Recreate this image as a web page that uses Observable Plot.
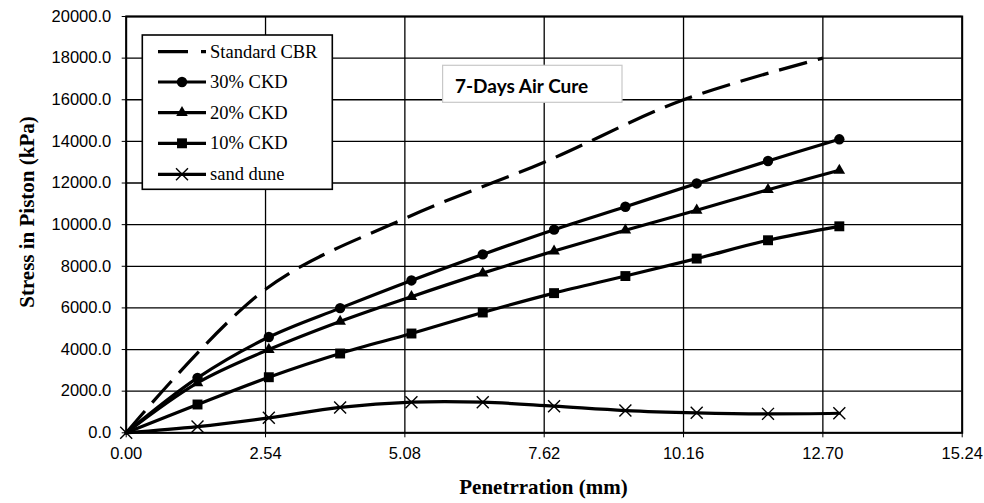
<!DOCTYPE html>
<html><head><meta charset="utf-8">
<script src="https://cdn.jsdelivr.net/npm/d3@7"></script>
<script src="https://cdn.jsdelivr.net/npm/@observablehq/plot@0.6"></script>
<style>
html,body{margin:0;padding:0;background:#fff;}
#chart svg{display:block;}
</style></head><body><div id="chart"></div>
<script>
// ---- data ----
const penetration = [0, 1.3, 2.6, 3.9, 5.2, 6.5, 7.8, 9.1, 10.4, 11.7, 13.0];
const ckd30 = [0, 2640, 4600, 5990, 7320, 8570, 9760, 10860, 11980, 13060, 14100];
const ckd20 = [0, 2400, 4000, 5350, 6540, 7670, 8730, 9730, 10690, 11680, 12610];
const ckd10 = [0, 1360, 2670, 3810, 4770, 5780, 6710, 7530, 8370, 9250, 9920];
const sandDune = [0, 300, 720, 1220, 1470, 1470, 1280, 1070, 960, 910, 940];
const cbrPenetration = [0, 2.54, 5.08, 7.62, 10.16, 12.70];
const standardCBR = [0, 6900, 10300, 13000, 16000, 18000];
const xTicks = [0, 2.54, 5.08, 7.62, 10.16, 12.70, 15.24];
const yTicks = [0, 2000, 4000, 6000, 8000, 10000, 12000, 14000, 16000, 18000, 20000];
const seriesNames = ["Standard CBR", "30% CKD", "20% CKD", "10% CKD", "sand dune"];
const xLabel = "Penetrration (mm)";
const yLabel = "Stress in Piston (kPa)";
const note = "7-Days Air Cure";

const toRows = (ys) => ys.map((v, i) => ({x: penetration[i], y: v}));
const r30 = toRows(ckd30), r20 = toRows(ckd20), r10 = toRows(ckd10), rSand = toRows(sandDune);
const rCBR = standardCBR.map((v, i) => ({x: cbrPenetration[i], y: v}));
const nz = (rows) => rows.filter(d => d.x > 0);

const lineOpts = {x: "x", y: "y", stroke: "black", strokeWidth: 3.2, curve: "catmull-rom"};
const sans = "'Liberation Sans', Arial, sans-serif";

const chart = Plot.plot({
  width: 984,
  height: 503,
  marginLeft: 125.7,
  marginRight: 22.3,
  marginTop: 16,
  marginBottom: 70.7,
  style: {fontFamily: sans, fontSize: "16px", background: "white", color: "black"},
  x: {domain: [0, 15.24], label: null},
  y: {domain: [0, 20000], label: null},
  marks: [
    Plot.gridX(xTicks, {stroke: "black", strokeOpacity: 1, strokeWidth: 1.3}),
    Plot.gridY(yTicks, {stroke: "black", strokeOpacity: 1, strokeWidth: 1.3}),
    Plot.axisX(xTicks, {tickFormat: d3.format(".2f"), tickSize: 5, tickPadding: 9.5, fontSize: 16.5, fontFamily: sans, label: null}),
    Plot.axisY(yTicks, {tickFormat: d3.format(".1f"), tickSize: 4, tickPadding: 11, fontSize: 16.5, fontFamily: sans, label: null}),
    Plot.line(rCBR, {...lineOpts, strokeDasharray: "29,11", strokeLinecap: "butt"}),
    Plot.line(r30, lineOpts),
    Plot.line(r20, lineOpts),
    Plot.line(r10, lineOpts),
    Plot.line(rSand, lineOpts),
    Plot.dot(nz(r30), {x: "x", y: "y", symbol: "circle", r: 5.2, fill: "black"}),
    Plot.dot(nz(r20), {x: "x", y: "y", symbol: "triangle", r: 4.3, fill: "black"}),
    Plot.dot(nz(r10), {x: "x", y: "y", symbol: "square", r: 5.6, fill: "black"}),
    Plot.dot(rSand, {x: "x", y: "y", symbol: "times", r: 5.5, stroke: "black", strokeWidth: 1.4, fill: "none"}),
    Plot.frame({stroke: "black", strokeWidth: 2})
  ]
});
document.getElementById("chart").appendChild(chart);

const svg = d3.select(chart);
const serif = "'Liberation Serif', 'Times New Roman', serif";
// axis titles
svg.append("text").attr("x", 543.5).attr("y", 494).attr("text-anchor", "middle")
  .attr("font-family", serif).attr("font-weight", "bold").attr("font-size", 21)
  .text(xLabel);
svg.append("text").attr("transform", "translate(34,212) rotate(-90)").attr("text-anchor", "middle")
  .attr("font-family", serif).attr("font-weight", "bold").attr("font-size", 21)
  .text(yLabel);

// annotation box
svg.append("rect").attr("x", 442.6).attr("y", 65.3).attr("width", 179.4).attr("height", 37)
  .attr("fill", "white").attr("stroke", "#c8c8c8").attr("stroke-width", 1.2);
svg.append("text").attr("x", 455).attr("y", 92.5).attr("text-anchor", "start")
  .attr("font-family", "Lato, sans-serif").attr("font-weight", "bold")
  .attr("font-size", 19).text(note);

// legend
const lg = svg.append("g");
lg.append("rect").attr("x", 142.3).attr("y", 35).attr("width", 190).attr("height", 154.3)
  .attr("fill", "white").attr("stroke", "black").attr("stroke-width", 1.6);
const ly = [51.7, 82, 112.7, 143.3, 174.3];
const sym = [null, d3.symbolCircle, d3.symbolTriangle, d3.symbolSquare, d3.symbolTimes];
const symR = [0, 5.2, 4.3, 5.6, 5.5];
seriesNames.forEach((name, i) => {
  const y = ly[i];
  const ln = lg.append("line").attr("x1", 158).attr("x2", 206).attr("y1", y).attr("y2", y)
    .attr("stroke", "black").attr("stroke-width", 3.2);
  if (i === 0) ln.attr("stroke-dasharray", "30,13");
  if (sym[i]) {
    const p = lg.append("path").attr("transform", `translate(182,${y})`)
      .attr("d", d3.symbol(sym[i], Math.PI * symR[i] * symR[i])());
    if (i === 4) p.attr("fill", "none").attr("stroke", "black").attr("stroke-width", 1.4);
    else p.attr("fill", "black");
  }
  lg.append("text").attr("x", 210).attr("y", y + 6).attr("text-anchor", "start")
    .attr("font-family", serif).attr("font-size", 18.5)
    .text(name);
});
</script>
</body></html>
